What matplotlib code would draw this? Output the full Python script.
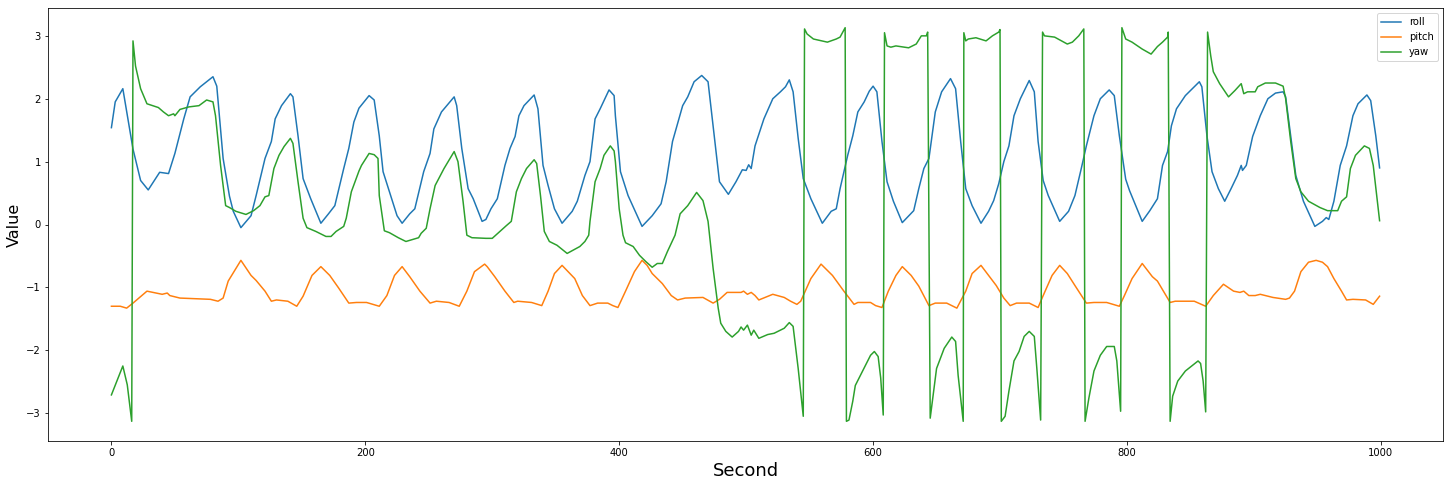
import matplotlib
matplotlib.use("Agg")
from matplotlib import pyplot as plt

# roll: (second, value)
roll_x = [0, 3, 9, 13, 17, 23, 29, 38, 45, 50, 57, 62, 70, 80, 83, 88, 93,
          96, 102, 110, 114, 121, 126, 129, 134, 141, 143, 147, 151, 157, 165, 171, 176,
          183, 187, 191, 195, 199, 203, 207, 211, 214, 219, 225, 229, 235, 239, 246, 251,
          254, 260, 270, 272, 276, 281, 285, 292, 295, 299, 304, 310, 314, 318, 321, 325,
          333, 336, 340, 344, 349, 355, 363, 367, 373, 377, 381, 385, 392, 396, 397, 401,
          407, 418, 426, 433, 437, 442, 450, 454, 459, 465, 470, 474, 479, 486, 492, 497,
          500, 502, 504, 507, 514, 521, 527, 531, 534, 537, 541, 545, 551, 560, 567, 571,
          574, 580, 584, 588, 593, 597, 600, 603, 607, 611, 616, 623, 632, 636, 640, 644,
          649, 654, 661, 665, 669, 673, 678, 685, 691, 695, 699, 703, 707, 711, 716, 723,
          727, 730, 734, 738, 747, 754, 759, 764, 768, 774, 779, 786, 790, 794, 799, 802,
          812, 818, 824, 828, 832, 835, 839, 846, 852, 857, 859, 863, 867, 872, 877, 882,
          887, 890, 891, 894, 899, 905, 911, 917, 923, 925, 929, 933, 939, 948, 954, 957,
          959, 963, 968, 973, 978, 982, 989, 992, 996, 999]
roll_y = [1.54, 1.95, 2.16, 1.68, 1.20, 0.70, 0.55, 0.83, 0.81, 1.13, 1.68, 2.03, 2.19, 2.35, 2.20, 1.05, 0.45,
          0.21, -0.05, 0.14, 0.46, 1.05, 1.32, 1.68, 1.89, 2.08, 2.03, 1.41, 0.73, 0.41, 0.02, 0.17, 0.30,
          0.89, 1.21, 1.63, 1.85, 1.95, 2.05, 1.98, 1.41, 0.84, 0.52, 0.14, 0.02, 0.17, 0.25, 0.84, 1.13,
          1.52, 1.79, 2.03, 1.89, 1.21, 0.57, 0.41, 0.05, 0.08, 0.25, 0.41, 0.94, 1.21, 1.40, 1.73, 1.89,
          2.06, 1.84, 0.94, 0.62, 0.25, 0.02, 0.21, 0.37, 0.78, 1.00, 1.68, 1.84, 2.14, 2.05, 1.73, 0.84,
          0.46, -0.03, 0.14, 0.33, 0.68, 1.32, 1.89, 2.03, 2.27, 2.37, 2.27, 1.57, 0.68, 0.48, 0.68, 0.87,
          0.86, 0.95, 0.89, 1.25, 1.68, 2.00, 2.11, 2.19, 2.30, 2.11, 1.37, 0.73, 0.41, 0.02, 0.21, 0.25,
          0.57, 1.10, 1.41, 1.79, 1.95, 2.12, 2.20, 2.11, 1.32, 0.68, 0.37, 0.03, 0.22, 0.57, 0.89, 1.05,
          1.79, 2.11, 2.32, 2.16, 1.32, 0.57, 0.30, 0.02, 0.21, 0.38, 0.65, 1.00, 1.25, 1.73, 2.00, 2.29,
          2.11, 1.32, 0.70, 0.46, 0.05, 0.21, 0.46, 0.89, 1.25, 1.73, 2.00, 2.14, 2.05, 1.41, 0.72, 0.54,
          0.05, 0.22, 0.41, 0.94, 1.16, 1.57, 1.84, 2.05, 2.17, 2.27, 2.19, 1.41, 0.84, 0.57, 0.37, 0.57,
          0.78, 0.94, 0.86, 0.94, 1.40, 1.73, 2.00, 2.09, 2.11, 2.03, 1.41, 0.78, 0.37, -0.03, 0.05, 0.11,
          0.08, 0.37, 0.94, 1.25, 1.73, 1.92, 2.06, 1.97, 1.41, 0.90]

# pitch
pitch_x = [0, 7, 12, 17, 28, 40, 44, 46, 54, 78, 84, 88, 92, 102, 110, 114, 121, 126, 130,
           139, 146, 151, 158, 165, 172, 179, 187, 193, 201, 211, 217, 223, 229, 235, 243, 251,
           256, 266, 274, 280, 286, 294, 296, 302, 310, 317, 320, 331, 339, 344, 349, 355, 365,
           371, 377, 383, 391, 395, 399, 405, 412, 418, 422, 426, 434, 441, 446, 452, 466, 474,
           479, 485, 496, 498, 501, 504, 507, 510, 521, 530, 535, 540, 543, 551, 559, 568, 577,
           585, 588, 598, 602, 607, 612, 618, 623, 630, 636, 644, 649, 658, 666, 673, 678, 685,
           691, 697, 703, 708, 713, 723, 730, 734, 741, 747, 753, 759, 768, 774, 784, 794, 798,
           804, 812, 820, 824, 834, 838, 853, 862, 868, 876, 884, 889, 892, 896, 901, 905, 915,
           925, 928, 932, 937, 943, 949, 954, 958, 963, 969, 973, 978, 988, 994, 999]
pitch_y = [-1.30, -1.30, -1.33, -1.25, -1.06, -1.11, -1.09, -1.13, -1.17, -1.19, -1.22, -1.17, -0.90,
           -0.57, -0.81, -0.89, -1.06, -1.22, -1.20, -1.22, -1.30, -1.14, -0.81, -0.67, -0.81, -1.01,
           -1.25, -1.24, -1.24, -1.30, -1.13, -0.81, -0.67, -0.83, -1.06, -1.25, -1.22, -1.24, -1.30,
           -1.06, -0.75, -0.63, -0.67, -0.83, -1.06, -1.24, -1.22, -1.24, -1.29, -1.06, -0.78, -0.65,
           -0.86, -1.13, -1.29, -1.25, -1.25, -1.29, -1.32, -1.06, -0.75, -0.57, -0.65, -0.78, -0.94,
           -1.13, -1.20, -1.17, -1.16, -1.25, -1.19, -1.08, -1.08, -1.06, -1.11, -1.08, -1.13, -1.20,
           -1.11, -1.16, -1.22, -1.27, -1.22, -0.86, -0.63, -0.81, -1.06, -1.27, -1.24, -1.24, -1.29,
           -1.32, -1.06, -0.81, -0.67, -0.81, -0.98, -1.29, -1.25, -1.25, -1.33, -1.06, -0.78, -0.65,
           -0.81, -0.97, -1.17, -1.29, -1.25, -1.25, -1.32, -1.13, -0.81, -0.65, -0.78, -0.97, -1.25,
           -1.24, -1.24, -1.30, -1.13, -0.86, -0.62, -0.83, -0.90, -1.24, -1.22, -1.22, -1.30, -1.13,
           -0.95, -1.06, -1.08, -1.06, -1.13, -1.13, -1.11, -1.16, -1.19, -1.17, -1.06, -0.75, -0.60,
           -0.57, -0.60, -0.67, -0.86, -1.06, -1.20, -1.19, -1.20, -1.27, -1.14]

# yaw (wraps around at +-pi)
yaw_x = [0, 9, 12.5, 16, 17, 19, 23, 28, 37, 41, 45, 49, 50, 54, 61, 69, 75, 80, 82, 86, 90,
         93, 98, 106, 112, 117, 121, 124, 128, 132, 136, 141, 143, 147, 151, 154, 161, 169, 173,
         177, 183, 185, 189, 195, 197, 203, 207, 210, 211, 215, 219, 226, 232, 242, 244, 248, 251,
         255, 262, 270, 273, 277, 280, 284, 295, 300, 306, 311, 315, 319, 323, 327, 333, 335, 338,
         341, 345, 351, 359, 369, 373, 376, 377, 381, 385, 388, 393, 396, 397, 400, 403, 405, 411,
         416, 421, 426, 430, 434, 438, 444, 448, 454, 461, 466, 470, 474, 478, 480, 484, 489, 494,
         496, 498, 501, 504, 506, 510, 517, 522, 530, 534, 537, 541, 545, 546, 548, 553, 564, 571,
         574, 578, 579, 581, 584, 586, 590, 598, 601, 604, 606, 608, 609, 611, 614, 618, 628, 634,
         638, 642, 643, 645, 648, 650, 656, 662, 665, 667, 671, 671.5, 673, 675, 681, 689, 694, 699,
         700, 701, 704, 707, 711, 715, 719, 723, 727, 729, 732, 733.5, 735, 743, 753, 757, 762, 766,
         767, 770, 774, 779, 784, 790, 792, 795, 796, 799, 804, 812, 819, 824, 828, 832, 832.5, 834,
         836, 840, 846, 851, 856, 858, 860, 862, 863.5, 866, 868, 873, 880, 885, 890, 892, 895, 901,
         903, 909, 917, 923, 925, 929, 933, 937, 943, 952, 958, 966, 969, 973, 976, 980, 987, 991,
         994, 999]
yaw_y = [-2.71, -2.25, -2.55, -3.13, 2.92, 2.52, 2.16, 1.92, 1.86, 1.79, 1.73, 1.76, 1.73, 1.83,
         1.87, 1.89, 1.98, 1.95, 1.73, 0.94, 0.30, 0.27, 0.21, 0.16, 0.22, 0.30, 0.44, 0.46, 0.89,
         1.10, 1.24, 1.37, 1.29, 0.68, 0.10, -0.05, -0.11, -0.19, -0.19, -0.11, -0.03, 0.10, 0.52,
         0.85, 0.94, 1.13, 1.11, 1.05, 0.46, -0.10, -0.13, -0.21, -0.27, -0.21, -0.14, -0.06, 0.25,
         0.62, 0.89, 1.16, 1.00, 0.37, -0.17, -0.21, -0.22, -0.22, -0.11, -0.02, 0.05, 0.52, 0.73,
         0.89, 1.03, 0.97, 0.46, -0.11, -0.27, -0.33, -0.46, -0.35, -0.27, -0.17, 0.05, 0.68, 0.89,
         1.10, 1.25, 1.17, 1.00, 0.25, -0.17, -0.29, -0.35, -0.49, -0.59, -0.68, -0.62, -0.62, -0.43,
         -0.17, 0.17, 0.30, 0.51, 0.38, 0.05, -0.70, -1.33, -1.57, -1.70, -1.79, -1.70, -1.63, -1.68,
         -1.60, -1.76, -1.68, -1.81, -1.75, -1.73, -1.65, -1.56, -1.62, -2.29, -3.05, 3.11, 3.03,
         2.95, 2.90, 2.95, 2.98, 3.13, -3.13, -3.11, -2.81, -2.56, -2.40, -2.08, -2.02, -2.10, -2.44,
         -3.03, 3.05, 2.84, 2.82, 2.84, 2.81, 2.87, 3.00, 3.00, 3.06, -3.08, -2.60, -2.29, -1.97,
         -1.79, -1.86, -2.40, -3.13, 3.05, 2.92, 2.95, 2.97, 2.92, 3.00, 3.06, 3.10, -3.13, -3.05,
         -2.65, -2.17, -2.02, -1.78, -1.70, -1.78, -2.29, -3.11, 3.06, 3.00, 2.98, 2.87, 2.90, 3.00,
         3.11, -3.13, -2.76, -2.33, -2.08, -1.94, -1.94, -2.17, -2.97, 3.13, 2.95, 2.90, 2.79, 2.71,
         2.83, 2.90, 2.98, 3.06, -3.13, -2.73, -2.49, -2.33, -2.25, -2.17, -2.21, -2.49, -2.98, 3.06,
         2.68, 2.43, 2.24, 2.03, 2.13, 2.24, 2.08, 2.11, 2.11, 2.19, 2.25, 2.25, 2.20, 2.00, 1.32,
         0.73, 0.52, 0.37, 0.27, 0.22, 0.22, 0.37, 0.44, 0.89, 1.10, 1.25, 1.21, 0.94, 0.06]

fig = plt.figure(figsize=(1450 / 72, 488 / 72), dpi=72)
ax = fig.add_subplot(111)
fig.subplots_adjust(left=48 / 1450, right=1443 / 1450, top=1 - 8 / 488, bottom=1 - 441 / 488)

ax.plot(roll_x, roll_y, label='roll')
ax.plot(pitch_x, pitch_y, label='pitch')
ax.plot(yaw_x, yaw_y, label='yaw')

ax.set_xlabel('Second', fontsize=18)
ax.set_ylabel('Value', fontsize=16)
ax.legend(loc='upper right')

fig.savefig('out.png', dpi=72)
